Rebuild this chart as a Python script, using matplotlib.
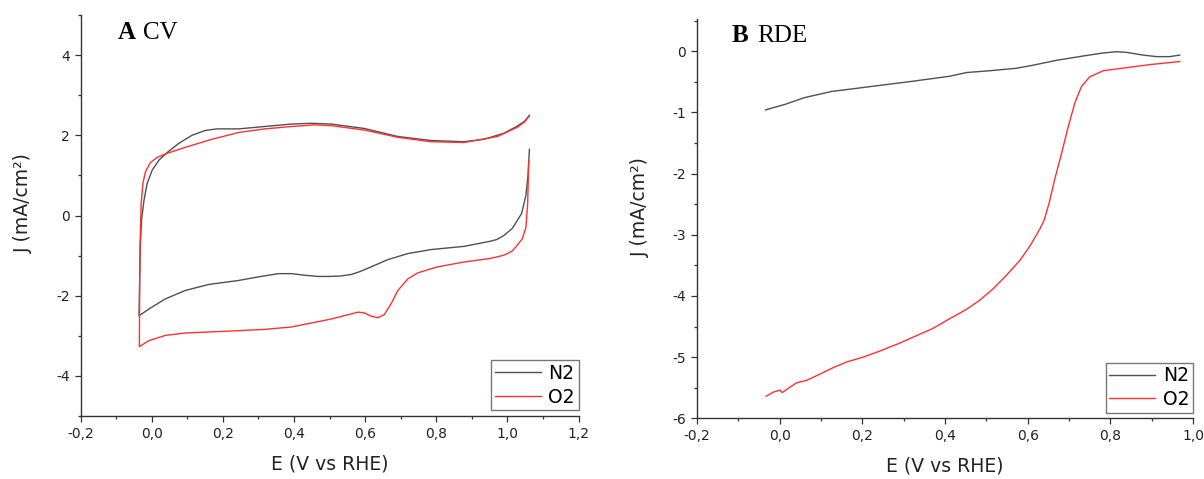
import matplotlib
matplotlib.use("Agg")
import matplotlib.pyplot as plt
from matplotlib.ticker import MultipleLocator, FuncFormatter

W, H = 1204, 479

# CV (panel A): each loop is read from the right end of the cathodic sweep,
# down to the left corner, then back up along the anodic sweep
cv_n2_e = [1.062, 1.058, 1.052, 1.040, 1.026, 1.014, 0.990, 0.970, 0.953, 0.878,
           0.785, 0.720, 0.664, 0.617, 0.585, 0.561, 0.530, 0.496, 0.468, 0.430,
           0.393, 0.356, 0.300, 0.244, 0.160, 0.094, 0.038, -0.008, -0.036,
           -0.034, -0.032, -0.029, -0.022, -0.013, 0.001, 0.020, 0.043, 0.076,
           0.113, 0.150, 0.183, 0.244, 0.318, 0.393, 0.449, 0.505, 0.598, 0.692,
           0.785, 0.878, 0.934, 0.990, 1.028, 1.048, 1.062]
cv_n2_j = [1.65, 1.00, 0.50, 0.05, -0.15, -0.32, -0.50, -0.60, -0.64, -0.77,
           -0.85, -0.95, -1.10, -1.28, -1.40, -1.47, -1.51, -1.52, -1.52, -1.49,
           -1.45, -1.45, -1.53, -1.62, -1.72, -1.87, -2.08, -2.33, -2.50,
           -1.50, -0.70, -0.12, 0.38, 0.80, 1.13, 1.38, 1.57, 1.80,
           2.00, 2.12, 2.16, 2.16, 2.22, 2.28, 2.30, 2.28, 2.17, 1.97,
           1.87, 1.84, 1.90, 2.05, 2.23, 2.35, 2.50]

cv_o2_e = [1.060, 1.057, 1.052, 1.042, 1.028, 1.014, 1.000, 0.990, 0.953, 0.878,
           0.804, 0.748, 0.720, 0.692, 0.673, 0.654, 0.636, 0.617, 0.598, 0.580,
           0.505, 0.449, 0.393, 0.318, 0.225, 0.094, 0.038, -0.008, -0.035,
           -0.034, -0.033, -0.030, -0.025, -0.018, -0.004, 0.015, 0.043, 0.094,
           0.169, 0.244, 0.318, 0.393, 0.458, 0.505, 0.598, 0.692, 0.785, 0.878,
           0.972, 1.028, 1.048, 1.062]
cv_o2_j = [1.35, 0.30, -0.30, -0.58, -0.74, -0.88, -0.95, -0.99, -1.07, -1.16,
           -1.28, -1.43, -1.58, -1.87, -2.20, -2.47, -2.55, -2.51, -2.43, -2.41,
           -2.58, -2.68, -2.78, -2.84, -2.88, -2.93, -2.99, -3.12, -3.27,
           -1.50, -0.70, 0.30, 0.80, 1.09, 1.32, 1.45, 1.55, 1.70,
           1.90, 2.07, 2.16, 2.22, 2.26, 2.24, 2.13, 1.95, 1.84, 1.82,
           1.97, 2.20, 2.33, 2.48]

# RDE (panel B)
rde_n2_e = [-0.034, 0.013, 0.060, 0.125, 0.219, 0.313, 0.412, 0.452, 0.509,
            0.573, 0.613, 0.670, 0.734, 0.783, 0.815, 0.839, 0.879, 0.912,
            0.944, 0.968]
rde_n2_j = [-0.96, -0.87, -0.76, -0.66, -0.58, -0.50, -0.41, -0.35, -0.32,
            -0.28, -0.23, -0.15, -0.08, -0.03, -0.01, -0.02, -0.065, -0.09,
            -0.09, -0.065]

rde_o2_e = [-0.033, -0.015, 0.001, 0.006, 0.025, 0.041, 0.065, 0.097, 0.130,
            0.162, 0.202, 0.243, 0.291, 0.331, 0.371, 0.412, 0.452, 0.484,
            0.517, 0.549, 0.581, 0.605, 0.630, 0.640, 0.652, 0.666, 0.682,
            0.698, 0.714, 0.730, 0.750, 0.783, 0.839, 0.896, 0.968]
rde_o2_j = [-5.64, -5.57, -5.54, -5.58, -5.49, -5.42, -5.38, -5.28, -5.17,
            -5.08, -5.00, -4.90, -4.77, -4.65, -4.53, -4.37, -4.22, -4.07,
            -3.88, -3.66, -3.42, -3.19, -2.90, -2.76, -2.48, -2.08, -1.67,
            -1.24, -0.85, -0.58, -0.42, -0.32, -0.27, -0.22, -0.17]

GAS_LABELS = ["N2", "O2"]
N2_COLOR = "#505050"
O2_COLOR = "#ff3030"
SPINE = "#333333"


def comma(v, pos, digits):
    return f"{v:.{digits}f}".replace(".", ",")


def axes_rect(left, right, top, bottom):
    return [left / W, 1 - bottom / H, (right - left) / W, (bottom - top) / H]


def style_axes(ax, ylabel_y):
    for side in ("top", "right"):
        ax.spines[side].set_visible(False)
    for side in ("left", "bottom"):
        ax.spines[side].set_color(SPINE)
        ax.spines[side].set_linewidth(1.0)
    ax.tick_params(which="major", direction="out", length=4, width=0.9,
                   color=SPINE, labelsize=10, pad=4, labelcolor="#222222")
    ax.tick_params(which="minor", direction="out", length=2.4, width=0.9,
                   color=SPINE)
    ax.xaxis.set_major_locator(MultipleLocator(0.2))
    ax.xaxis.set_minor_locator(MultipleLocator(0.1))
    ax.xaxis.set_major_formatter(FuncFormatter(lambda v, p: comma(v, p, 1)))
    ax.yaxis.set_major_formatter(FuncFormatter(lambda v, p: comma(v, p, 0)))
    ax.set_xlabel("E (V vs RHE)", fontsize=13.5, color="#222222")
    ax.set_ylabel("J (mA/cm²)", fontsize=13.5, color="#222222")
    ax.xaxis.set_label_coords(0.5, -0.095)
    ax.yaxis.set_label_coords(-0.095, ylabel_y)
    leg = ax.legend(GAS_LABELS, loc="lower right", bbox_to_anchor=(1.0, 0.014),
                    borderaxespad=0, fontsize=13.5, frameon=True, fancybox=False,
                    borderpad=0.2, labelspacing=0.25, handlelength=2.45,
                    handletextpad=0.4)
    leg.get_frame().set_edgecolor("#555555")
    leg.get_frame().set_linewidth(1.0)


fig = plt.figure(figsize=(W / 100, H / 100), dpi=100)

ax_a = fig.add_axes(axes_rect(80.7, 578.5, 15, 416))
ax_a.plot(cv_n2_e, cv_n2_j, color=N2_COLOR, lw=1.0)
ax_a.plot(cv_o2_e, cv_o2_j, color=O2_COLOR, lw=1.0)
ax_a.set_xlim(-0.2, 1.2)
ax_a.set_ylim(-5, 5)
ax_a.yaxis.set_major_locator(MultipleLocator(2))
ax_a.yaxis.set_minor_locator(MultipleLocator(1))
style_axes(ax_a, 0.53)

ax_b = fig.add_axes(axes_rect(697, 1193, 19.3, 418.3))
ax_b.plot(rde_n2_e, rde_n2_j, color=N2_COLOR, lw=1.0)
ax_b.plot(rde_o2_e, rde_o2_j, color=O2_COLOR, lw=1.0)
ax_b.set_xlim(-0.2, 1.0)
ax_b.set_ylim(-6, 0.52)
ax_b.yaxis.set_major_locator(MultipleLocator(1))
ax_b.yaxis.set_minor_locator(MultipleLocator(0.5))
style_axes(ax_b, 0.53)

# panel titles: bold letter + regular name, in a Times-like serif
serif = "Liberation Serif"
fig.text(117.3 / W, 1 - 39.3 / H, "A", fontsize=18, fontweight="bold",
         family=serif, ha="left", va="baseline")
fig.text(142.5 / W, 1 - 39.3 / H, "CV", fontsize=18, family=serif,
         ha="left", va="baseline")
fig.text(732.1 / W, 1 - 41.5 / H, "B", fontsize=18, fontweight="bold",
         family=serif, ha="left", va="baseline")
fig.text(757.2 / W, 1 - 41.5 / H, "RDE", fontsize=18, family=serif,
         ha="left", va="baseline")

fig.savefig("out.png", dpi=100, facecolor="white")
